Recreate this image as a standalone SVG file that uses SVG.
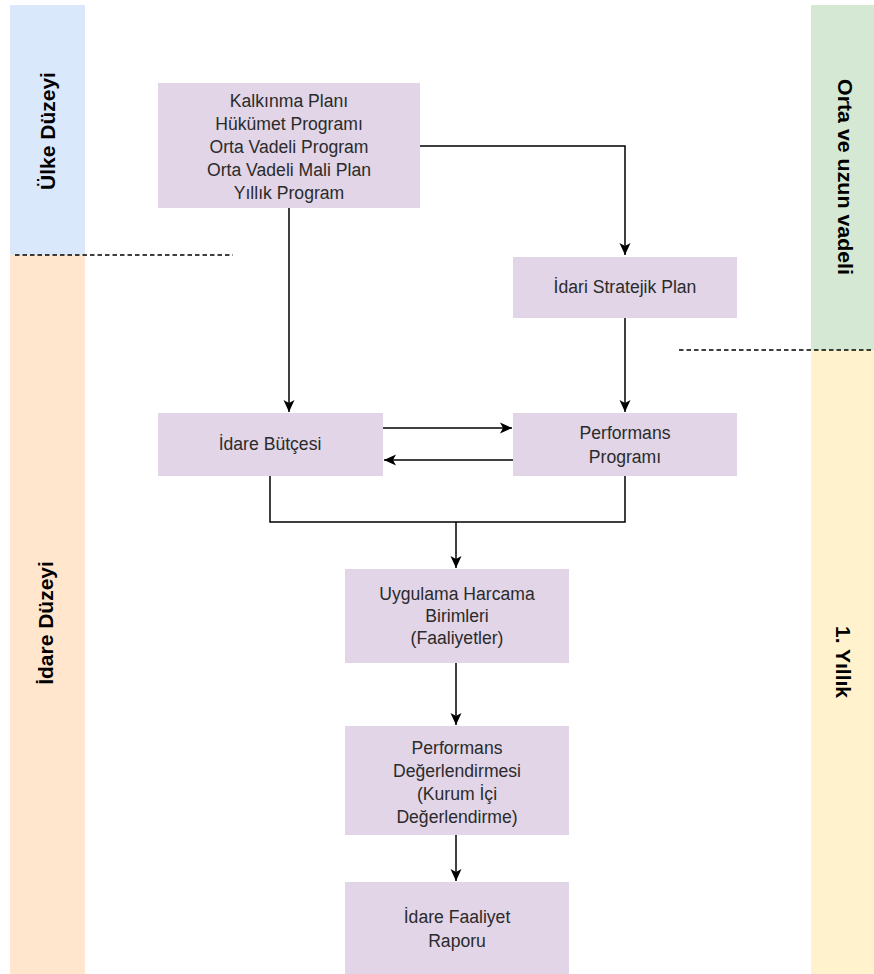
<svg xmlns="http://www.w3.org/2000/svg" width="874" height="974" viewBox="0 0 874 974">
<style>
.box{fill:#e1d5e7;stroke:none}
.t{font-family:"Liberation Sans",Arial,sans-serif;font-size:17.6px;fill:#2b2b2b;text-anchor:middle;dominant-baseline:central}
.lane{font-family:"Liberation Sans",Arial,sans-serif;font-size:21px;font-weight:bold;fill:#000;text-anchor:middle;dominant-baseline:central}
.e{fill:none;stroke:#000;stroke-width:1.5}
.d{fill:none;stroke:#000;stroke-width:1.4;stroke-dasharray:4.5 3}
</style>
<defs>
<marker id="ah" markerUnits="userSpaceOnUse" markerWidth="13" markerHeight="12" refX="12" refY="6" orient="auto">
<path d="M0,0.5 L12,6 L0,11.5 L3,6 z" fill="#000"/>
</marker>
</defs>
<g id="lanes">
<rect x="10" y="5" width="75" height="250" fill="#dae8fc"/>
<rect x="10" y="255" width="75" height="719" fill="#ffe6cc"/>
<rect x="811" y="5" width="63" height="345" fill="#d5e8d4"/>
<rect x="811" y="350" width="63" height="624" fill="#fff2cc"/>
<text class="lane" transform="translate(47,131) rotate(-90)">Ülke Düzeyi</text>
<text class="lane" transform="translate(45,623) rotate(-90)">İdare Düzeyi</text>
<text class="lane" transform="translate(845,177) rotate(90)" textLength="196" lengthAdjust="spacingAndGlyphs">Orta ve uzun vadeli</text>
<text class="lane" transform="translate(843,662) rotate(90)">1. Yıllık</text>
<line class="d" x1="15" y1="255" x2="233" y2="255"/>
<line class="d" x1="679" y1="350" x2="874" y2="350"/>
</g>
<g id="connectors">
<path class="e" d="M420,146 H625 V255" marker-end="url(#ah)"/>
<path class="e" d="M289,208 V412" marker-end="url(#ah)"/>
<path class="e" d="M625,318 V412" marker-end="url(#ah)"/>
<path class="e" d="M383,428 H512" marker-end="url(#ah)"/>
<path class="e" d="M513,460 H384" marker-end="url(#ah)"/>
<path class="e" d="M270,476 V522 H625 V476"/>
<path class="e" d="M456,522 V568" marker-end="url(#ah)"/>
<path class="e" d="M456,663 V725" marker-end="url(#ah)"/>
<path class="e" d="M456,835 V881" marker-end="url(#ah)"/>
</g>
<g id="plans">
<rect class="box" x="158" y="83" width="262" height="125"/>
<text class="t" x="289" y="101">Kalkınma Planı</text>
<text class="t" x="289" y="124">Hükümet Programı</text>
<text class="t" x="289" y="147">Orta Vadeli Program</text>
<text class="t" x="289" y="170">Orta Vadeli Mali Plan</text>
<text class="t" x="289" y="193">Yıllık Program</text>
</g>
<g id="stratejik">
<rect class="box" x="513" y="257" width="224" height="61"/>
<text class="t" x="625" y="287">İdari Stratejik Plan</text>
</g>
<g id="butce">
<rect class="box" x="158" y="413" width="225" height="63"/>
<text class="t" x="270" y="444">İdare Bütçesi</text>
</g>
<g id="perfprog">
<rect class="box" x="513" y="413" width="224" height="63"/>
<text class="t" x="625" y="433">Performans</text>
<text class="t" x="625" y="457">Programı</text>
</g>
<g id="uygulama">
<rect class="box" x="345" y="569" width="224" height="94"/>
<text class="t" x="457" y="594">Uygulama Harcama</text>
<text class="t" x="457" y="616">Birimleri</text>
<text class="t" x="457" y="638">(Faaliyetler)</text>
</g>
<g id="degerlendirme">
<rect class="box" x="345" y="726" width="224" height="109"/>
<text class="t" x="457" y="748">Performans</text>
<text class="t" x="457" y="771">Değerlendirmesi</text>
<text class="t" x="457" y="794">(Kurum İçi</text>
<text class="t" x="457" y="817">Değerlendirme)</text>
</g>
<g id="rapor">
<rect class="box" x="345" y="882" width="224" height="92"/>
<text class="t" x="457" y="917">İdare Faaliyet</text>
<text class="t" x="457" y="941">Raporu</text>
</g>
</svg>
